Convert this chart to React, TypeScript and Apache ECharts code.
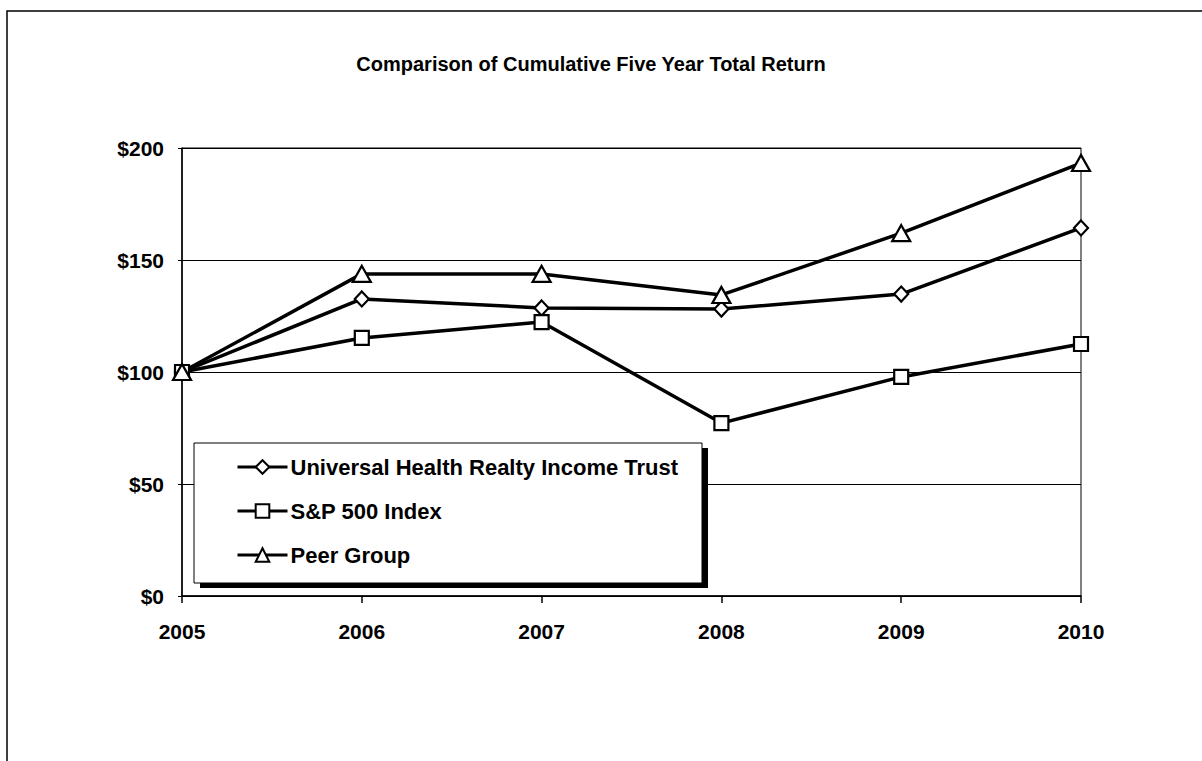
import React, { useEffect, useRef } from "react";
import * as echarts from "echarts";

const years = ["2005", "2006", "2007", "2008", "2009", "2010"];
const uhtValues = [100, 132.6, 128.6, 128.1, 134.8, 164.3];
const spValues = [100, 115.2, 122.3, 77.2, 97.8, 112.5];
const peerValues = [100, 143.8, 143.8, 134.4, 162.0, 193.3];
const seriesNames = ["Universal Health Realty Income Trust", "S&P 500 Index", "Peer Group"];
const yTicks = [0, 50, 100, 150, 200];

const FONT = "'Liberation Sans', Arial, Helvetica, sans-serif";

export default function App() {
  const ref = useRef<HTMLDivElement>(null);

  useEffect(() => {
    if (!ref.current) return;
    const chart = echarts.init(ref.current, null, { renderer: "svg" });

    const mkSeries = (name: string, data: number[], symbol: string, size: number | number[]) => ({
      name,
      type: "line",
      data,
      symbol,
      symbolSize: size,
      showSymbol: true,
      z: 3,
      lineStyle: { color: "#000", width: 3.5 },
      itemStyle: { color: "#fff", borderColor: "#000", borderWidth: 2.2 },
      emphasis: { disabled: true },
    });

    chart.setOption({
      animation: false,
      backgroundColor: "#fff",
      textStyle: { fontFamily: FONT },
      title: {
        text: "Comparison of Cumulative Five Year Total Return",
        left: 586,
        textAlign: "center",
        top: 49,
        textStyle: { fontFamily: FONT, fontSize: 20, fontWeight: "bold", color: "#000" },
      },
      grid: {
        left: 182,
        right: 121,
        top: 148,
        bottom: 165,
        show: true,
        borderColor: "#000",
        borderWidth: 1,
        backgroundColor: "transparent",
      },
      xAxis: {
        type: "category",
        data: years,
        boundaryGap: false,
        axisLine: { show: true, lineStyle: { color: "#000", width: 1.5 } },
        axisTick: { show: true, length: 7, inside: false, alignWithLabel: true, lineStyle: { color: "#000", width: 1.5 } },
        axisLabel: {
          margin: 25,
          color: "#000",
          fontFamily: FONT,
          fontSize: 21,
          fontWeight: "bold",
        },
        splitLine: { show: false },
      },
      yAxis: {
        type: "value",
        min: yTicks[0],
        max: yTicks[yTicks.length - 1],
        interval: 50,
        axisLine: { show: true, lineStyle: { color: "#000", width: 1.5 } },
        axisTick: { show: true, length: 4, lineStyle: { color: "#000" } },
        axisLabel: {
          margin: 18,
          color: "#000",
          fontFamily: FONT,
          fontSize: 21,
          fontWeight: "bold",
          formatter: (v: number) => "$" + v,
        },
        splitLine: { show: true, lineStyle: { color: "#000", width: 1 } },
      },
      legend: {
        show: true,
        orient: "vertical",
        left: 231,
        top: 451,
        itemGap: 22,
        itemWidth: 50,
        itemHeight: 17,
        z: 10,
        data: seriesNames,
        lineStyle: { width: 3, color: "#000" },
        itemStyle: { color: "#fff", borderColor: "#000", borderWidth: 2 },
        textStyle: { fontFamily: FONT, fontSize: 22, fontWeight: "bold", color: "#000", padding: [0, 0, 0, -2] },
        selectedMode: false,
      },
      graphic: [
        {
          type: "rect",
          z: 5,
          shape: { x: 7, y: 11, width: 1210, height: 800 },
          style: { fill: "none", stroke: "#000", lineWidth: 1.5 },
          silent: true,
        },
        {
          type: "rect",
          z: 5,
          shape: { x: 200, y: 448, width: 508, height: 140 },
          style: { fill: "#000" },
          silent: true,
        },
        {
          type: "rect",
          z: 6,
          shape: { x: 194, y: 443, width: 508, height: 140 },
          style: { fill: "#fff", stroke: "#000", lineWidth: 1 },
          silent: true,
        },
      ],
      series: [
        mkSeries(seriesNames[0], uhtValues, "diamond", [14, 15]),
        mkSeries(seriesNames[1], spValues, "rect", 14),
        mkSeries(seriesNames[2], peerValues, "triangle", [18, 16]),
      ],
    });

    return () => chart.dispose();
  }, []);

  return (
    <div
      ref={ref}
      style={{ position: "fixed", left: 0, top: 0, width: 1202, height: 761 }}
    />
  );
}
